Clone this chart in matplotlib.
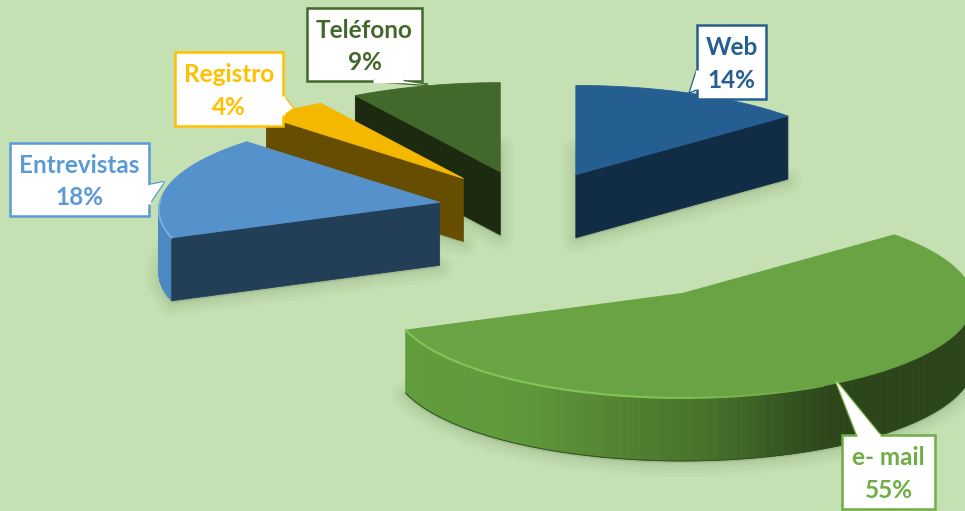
import numpy as np
import matplotlib
matplotlib.use("Agg")
import matplotlib.pyplot as plt
from matplotlib.patches import Polygon
from matplotlib.colors import to_rgb

# Survey channels and their shares, clockwise from twelve o'clock
categories = ["Web", "e- mail", "Entrevistas", "Registro", "Teléfono"]
shares = [14, 55, 18, 4, 9]
explode = [110, 300, 91, 103, 103]
radius_scale = [1.0, 0.998, 0.965, 0.985, 1.0]
apex_nudge = [(0, 3), (1, 2), (0, 3), (0, 0), (0, 0)]

top_colors = ["#255e91", "#69a343", "#5592cb", "#f4b800", "#43682b"]
cut_colors = ["#112c45", None, "#233f58", "#664d00", "#1c2a10"]
label_colors = ["#255e91", "#70ad47", "#5b9bd5", "#ffc000", "#43682b"]

# Label boxes (x0, y0, x1, y1) and callout tails, in pixels
boxes = [(697, 25, 766, 99), (842, 435, 935, 509), (10, 143, 149, 216),
         (175, 52, 283, 126), (307, 8, 422, 81)]
tails = [[(697, 70), (690, 92), (697, 89)],
         [(857, 435), (836, 381), (880, 435)],
         [(149, 185), (164, 182), (149, 204)],
         [(283, 96), (293, 108), (283, 115)],
         [(373, 81), (428, 85), (403, 81)]]

BACKGROUND = "#c5e0b3"
CENTER_X, CENTER_Y = 529, 205
RADIUS_X, RADIUS_Y = 290, 97
PERSPECTIVE = 0.08
DEPTH = 63
TILT = RADIUS_Y / RADIUS_X


def rim(apex, t, size=1.0):
    """Screen position of the disc rim at clockwise angle t from an apex."""
    t = np.asarray(t, dtype=float)
    scale = (1 - PERSPECTIVE * np.cos(t)) * size
    return (apex[0] + RADIUS_X * np.sin(t) * scale,
            apex[1] - RADIUS_Y * np.cos(t) * scale)


def mix(stops, x):
    xs = [s[0] for s in stops]
    rgb = np.array([to_rgb(s[1]) for s in stops])
    return tuple(np.interp(x, xs, rgb[:, i]) for i in range(3))


def wall(ax, apex, t0, t1, stops, z, size):
    """Outer wall of a slice as narrow strips shaded along the x direction."""
    ts = np.linspace(t0, t1, 90)
    xs, ys = rim(apex, ts, size)
    for i in range(len(ts) - 1):
        quad = [(xs[i], ys[i]), (xs[i + 1], ys[i + 1]),
                (xs[i + 1], ys[i + 1] + DEPTH), (xs[i], ys[i] + DEPTH)]
        c = mix(stops, (xs[i] + xs[i + 1]) / 2)
        ax.add_patch(Polygon(quad, fc=c, ec=c, lw=0.6, zorder=z))


fig = plt.figure(figsize=(9.65, 5.11), dpi=100, facecolor=BACKGROUND)
ax = fig.add_axes([0, 0, 1, 1])
ax.set_xlim(0, 965)
ax.set_ylim(511, 0)
ax.axis("off")

fractions = np.array(shares) / sum(shares)
edges = np.concatenate([[0], np.cumsum(fractions)]) * 2 * np.pi

apexes, outlines = [], []
for i, share in enumerate(shares):
    mid = (edges[i] + edges[i + 1]) / 2
    apex = (CENTER_X + explode[i] * np.sin(mid) + apex_nudge[i][0],
            CENTER_Y - explode[i] * np.cos(mid) * TILT + apex_nudge[i][1])
    apexes.append(apex)
    ts = np.linspace(edges[i], edges[i + 1], 120)
    xs, ys = rim(apex, ts, radius_scale[i])
    outlines.append(np.vstack([[apex], np.column_stack([xs, ys])]))

# Soft shadows under each slice
for outline in outlines:
    base = outline + np.array([0, DEPTH + 2])
    for lw in (20, 15, 10, 6, 3):
        ax.add_patch(Polygon(base, closed=True, fc="#55704a", ec="#55704a",
                             lw=lw, alpha=0.035, joinstyle="round", zorder=1))

# Paint from the back of the scene towards the viewer
order = [4, 3, 2, 0, 1]
for rank, i in enumerate(order):
    z = 2 + rank
    apex = apexes[i]
    size = radius_scale[i]
    t0, t1 = edges[i], edges[i + 1]
    outline = outlines[i]

    if categories[i] == "e- mail":
        wall(ax, apex, np.pi / 2, t1,
             [(405, "#619c3d"), (520, "#5f993b"), (640, "#517f31"),
              (720, "#466e2a"), (800, "#31501e"), (840, "#2c451a"), (965, "#2c451a")], z, size)
        xs, ys = rim(apex, np.linspace(np.pi / 2, t1, 120), size)
        ax.plot(xs, ys + DEPTH, color="#2f4f1d", lw=0.7, zorder=z + 0.1)
    elif categories[i] == "Entrevistas":
        wall(ax, apex, t0, 1.5 * np.pi,
             [(150, "#4f8cc7"), (175, "#4a86bf")], z, size)

    if cut_colors[i] is not None:
        # Cut face on the radial edge that turns towards the viewer
        cut_t = t1 if categories[i] == "Web" else t0
        x, y = rim(apex, cut_t, size)
        face = [apex, (float(x), float(y)), (float(x), float(y) + DEPTH),
                (apex[0], apex[1] + DEPTH)]
        ax.add_patch(Polygon(face, fc=cut_colors[i], ec=cut_colors[i], lw=0.6,
                             joinstyle="round", zorder=z + 0.1))

    ax.add_patch(Polygon(outline, closed=True, fc=top_colors[i], ec=top_colors[i],
                         lw=0.6, zorder=z + 0.3))

    # Light bevel along the front rim, fading out towards the right
    if categories[i] == "e- mail":
        ts = np.linspace(np.pi * 0.85, t1, 60)
        xs, ys = rim(apex, ts, size)
        fade = np.linspace(0.0, 1.0, 59)
        for k in range(59):
            ax.plot(xs[k:k + 2], ys[k:k + 2], color=mix([(0, top_colors[i]), (1, "#82c455")], min(1, fade[k] * 3)),
                    lw=1.5, zorder=z + 0.4, solid_capstyle="round")
    elif categories[i] == "Entrevistas":
        xs, ys = rim(apex, np.linspace(t0, 1.5 * np.pi + 0.05, 30), size)
        ax.plot(xs, ys, color="#7fb2e2", lw=1.2, zorder=z + 0.4)

# Callout labels
for i, cat in enumerate(categories):
    x0, y0, x1, y1 = boxes[i]
    tail = tails[i]
    outline = [(x0, y0), (x1, y0), (x1, y1), (x0, y1)]
    ax.add_patch(Polygon(outline, closed=True, fc="white", ec=label_colors[i],
                         lw=1.8, zorder=20, joinstyle="miter"))
    ax.add_patch(Polygon(tail, closed=False, fc="white", ec=label_colors[i],
                         lw=1.8, zorder=21, joinstyle="miter"))
    ax.add_patch(Polygon(tail, closed=True, fc="white", ec="none", zorder=21.5))
    ax.plot([tail[0][0], tail[2][0]], [tail[0][1], tail[2][1]], color="white",
            lw=2.4, zorder=21.6, solid_capstyle="butt")
    cx, cy = (x0 + x1) / 2, (y0 + y1) / 2 + 2
    ax.text(cx, cy, f"{cat}\n{shares[i]}%", color=label_colors[i], family="Lato",
            fontweight="bold", fontsize=17.5, ha="center", va="center",
            linespacing=1.5, zorder=22)

fig.savefig("out.png", dpi=100, facecolor=BACKGROUND)
